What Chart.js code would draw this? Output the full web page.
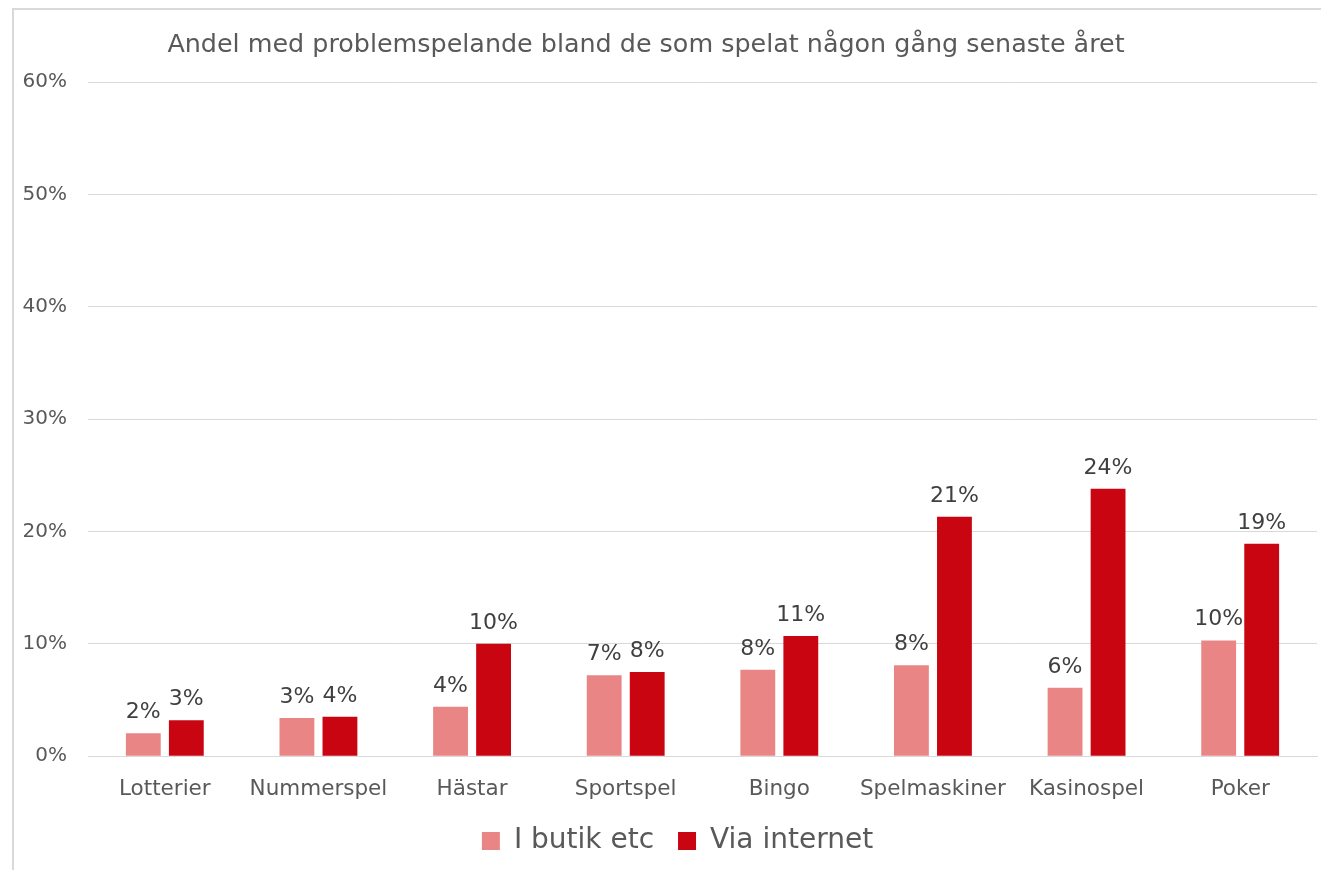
<!DOCTYPE html>
<html>
<head>
<meta charset="utf-8">
<script src="https://cdn.jsdelivr.net/npm/chart.js@4"></script>
<style>
  html, body { margin: 0; padding: 0; background: #fff; overflow: hidden; }
  #frame { position: absolute; left: 12px; top: 8px; width: 1400px; height: 900px;
           border-left: 2px solid #d9d9d9; border-top: 2px solid #d9d9d9; }
  #wrap { position: absolute; left: 0; top: 0; width: 1321px; height: 890px; }
</style>
</head>
<body>
<div id="frame"></div>
<div id="wrap"><canvas id="problemChart"></canvas></div>
<script>
var categories = ["Lotterier", "Nummerspel", "Hästar", "Sportspel", "Bingo", "Spelmaskiner", "Kasinospel", "Poker"];
var butikValues = [2.05, 3.4, 4.4, 7.2, 7.7, 8.1, 6.1, 10.3];
var internetValues = [3.2, 3.5, 10.0, 7.5, 10.7, 21.3, 23.8, 18.9];
var yTicks = [0, 10, 20, 30, 40, 50, 60];
var titleText = "Andel med problemspelande bland de som spelat någon gång senaste året";

var fontFamily = "'DejaVu Sans', Verdana, sans-serif";

// labels over each bar
var barLabels = {
    id: 'barLabels',
    afterDatasetsDraw: function (chart) {
        var c = chart.ctx;
        c.save();
        c.font = "22px " + fontFamily;
        c.fillStyle = "#404040";
        c.textAlign = "center";
        c.textBaseline = "alphabetic";
        chart.data.datasets.forEach(function (ds, i) {
            chart.getDatasetMeta(i).data.forEach(function (bar, j) {
                c.fillText(Math.round(ds.data[j]) + "%", bar.x, bar.y - 15);
            });
        });
        c.restore();
    }
};

// title, centred a bit left of the canvas middle like the original
var chartTitle = {
    id: 'chartTitle',
    afterDraw: function (chart) {
        var c = chart.ctx;
        c.save();
        c.font = "25.4px " + fontFamily;
        c.fillStyle = "#595959";
        c.textAlign = "center";
        c.textBaseline = "middle";
        c.fillText(titleText, 646, 45);
        c.restore();
    }
};

// the legend in the original sits a little right of centre and close under the axis labels
var legendNudge = {
    id: 'legendNudge',
    afterLayout: function (chart) {
        chart.legend.left += 9;
        chart.legend.right += 9;
        chart.legend.top -= 19;
        chart.legend.bottom -= 19;
    }
};

var ctx = document.getElementById('problemChart');
var problemChart = new Chart(ctx, {
    type: 'bar',
    plugins: [barLabels, chartTitle, legendNudge],
    data: {
        labels: categories,
        datasets: [{
            label: "I butik etc",
            data: butikValues,
            backgroundColor: "#ea8585",
            borderColor: "#ea8585",
            borderWidth: 0
        }, {
            label: "Via internet",
            data: internetValues,
            backgroundColor: "#c80510",
            borderColor: "#c80510",
            borderWidth: 0
        }]
    },
    options: {
        responsive: true,
        maintainAspectRatio: false,
        animation: false,
        datasets: {
            bar: { categoryPercentage: 0.56, barPercentage: 0.81 }
        },
        layout: {
            padding: { left: 20, right: 4, top: 82, bottom: 6 }
        },
        plugins: {
            title: { display: false },
            tooltip: { enabled: false },
            legend: {
                position: 'bottom',
                labels: {
                    boxWidth: 18,
                    boxHeight: 18,
                    padding: 24,
                    color: "#595959",
                    font: { size: 28, family: fontFamily }
                }
            }
        },
        scales: {
            x: {
                grid: { display: false, drawTicks: false },
                border: { color: "#d9d9d9", width: 1 },
                ticks: {
                    color: "#595959",
                    padding: 20,
                    maxRotation: 0,
                    minRotation: 0,
                    autoSkip: false,
                    font: { size: 21.5, family: fontFamily }
                }
            },
            y: {
                min: 0,
                max: 60,
                afterFit: function (s) { s.width = 68; },
                afterBuildTicks: function (s) {
                    s.ticks = yTicks.map(function (v) { return { value: v }; });
                },
                grid: { color: "#d9d9d9", drawTicks: false },
                border: { display: false },
                ticks: {
                    color: "#595959",
                    padding: 21,
                    font: { size: 20, family: fontFamily },
                    callback: function (v) { return v + "%"; }
                }
            }
        }
    }
});
</script>
</body>
</html>
